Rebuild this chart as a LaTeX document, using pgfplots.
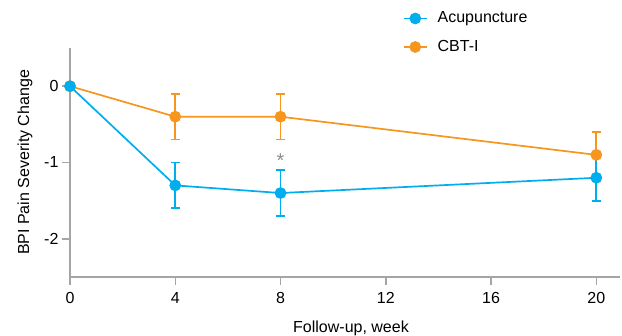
\documentclass[border=0pt]{standalone}
\usepackage{fontspec}
\setmainfont{Liberation Sans}
\usepackage{pgfplots}
\pgfplotsset{compat=1.18}
\definecolor{acu}{RGB}{0,174,239}
\definecolor{cbt}{RGB}{247,150,30}
\definecolor{axgray}{RGB}{165,165,165}
\definecolor{stargray}{RGB}{140,140,140}
\begin{document}
\fontsize{16}{18}\selectfont
\begin{tikzpicture}
\begin{axis}[
  at={(0,0)}, anchor=south west,
  scale only axis,
  width=550pt, height=229pt,
  xmin=0, xmax=20.9, ymin=-2.5, ymax=0.5,
  axis lines=left,
  axis line style={-, axgray, line width=1.8pt},
  xtick={0,4,8,12,16,20},
  ytick={-2,-1,0},
  tick align=outside,
  major tick length=8pt,
  tick style={axgray, line width=1.5pt},
  /pgf/number format/assume math mode=true,
  tick label style={font=\fontsize{16}{18}\selectfont},
  xticklabel style={yshift=-2pt},
  yticklabel style={xshift=2pt},
  label style={font=\fontsize{16}{18}\selectfont},
  xlabel={Follow-up, week},
  ylabel={BPI Pain Severity Change},
  xlabel style={at={(axis description cs:0.5,0)}, anchor=base, yshift=-56pt, xshift=6pt},
  ylabel style={at={(axis description cs:0,0.5)}, anchor=center, yshift=45pt},
  clip=false,
  reverse legend,
  legend style={draw=none, fill=none, at={(0.605,1.159)}, anchor=north west,
    inner sep=0pt,
    font=\fontsize{16}{18}\selectfont, row sep=15pt, column sep=10pt,
    nodes={inner sep=0pt}},
  legend cell align=left,
  legend image code/.code={
    \draw[mark repeat=2,mark phase=2] plot coordinates {(0pt,0pt)(11.5pt,0pt)(23pt,0pt)};},
]
\addplot[cbt, line width=1.7pt, mark=*, mark size=5pt, mark options={solid},
  error bars/.cd, y dir=both, y explicit,
  error mark options={rotate=90, mark size=4.5pt, line width=1.7pt},
  error bar style={line width=1.7pt}]
  coordinates {(0,0) +- (0,0) (4,-0.4) +- (0,0.3) (8,-0.4) +- (0,0.3) (20,-0.9) +- (0,0.3)};
\addlegendentry{CBT-I}
\addplot[acu, line width=1.7pt, mark=*, mark size=5pt, mark options={solid},
  error bars/.cd, y dir=both, y explicit,
  error mark options={rotate=90, mark size=4.5pt, line width=1.7pt},
  error bar style={line width=1.7pt}]
  coordinates {(0,0) +- (0,0) (4,-1.3) +- (0,0.3) (8,-1.4) +- (0,0.3) (20,-1.2) +- (0,0.3)};
\addlegendentry{Acupuncture}
\node[text=stargray, font=\fontsize{20}{20}\selectfont] at (axis cs:8,-0.97) {*};
\end{axis}
\pgfresetboundingbox
\useasboundingbox (-70pt,-59pt) rectangle (552pt,277pt);
\end{tikzpicture}
\end{document}
